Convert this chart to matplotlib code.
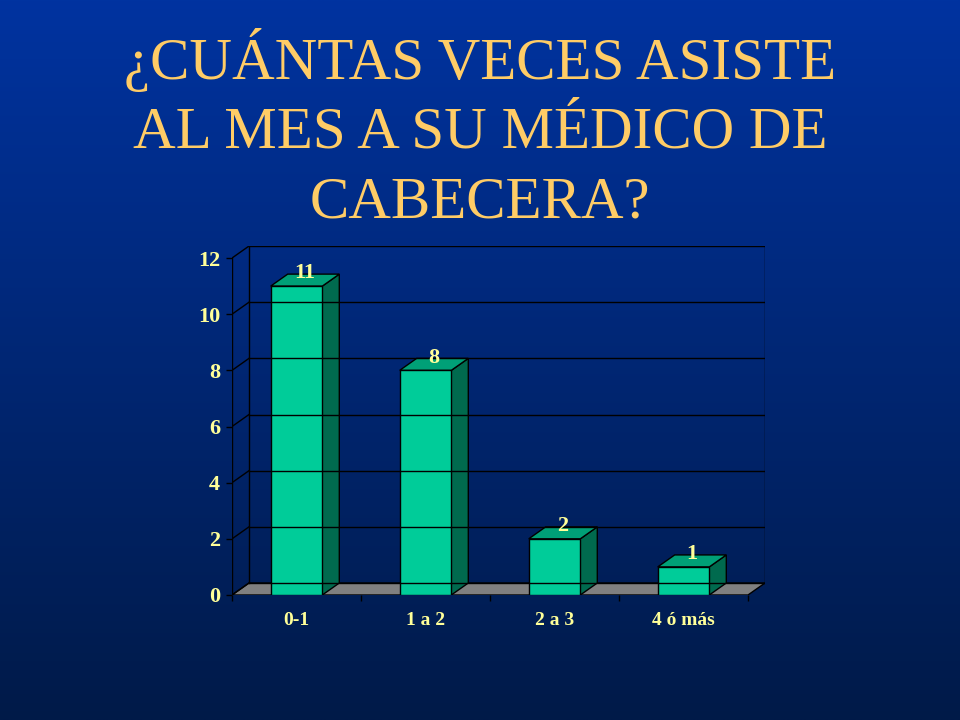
import matplotlib
matplotlib.use("Agg")
import matplotlib.pyplot as plt
import numpy as np
from matplotlib.patches import Polygon

# datos
categorias = ["0-1", "1 a 2", "2 a 3", "4 ó más"]
valores = [11, 8, 2, 1]
y_ticks = [0, 2, 4, 6, 8, 10, 12]
titulo = ["¿CUÁNTAS VECES ASISTE", "AL MES A SU MÉDICO DE", "CABECERA?"]

plt.rcParams['font.family'] = ['Liberation Serif', 'DejaVu Serif']

fig = plt.figure(figsize=(9.6, 7.2), dpi=100)

# fondo degradado
bg = fig.add_axes([0, 0, 1, 1])
top = np.array([0, 51, 160]) / 255
bot = np.array([0, 26, 72]) / 255
t = np.linspace(0, 1, 256)[:, None]
grad = top * (1 - t) + bot * t
bg.imshow(grad[:, None, :].repeat(2, axis=1), aspect='auto', extent=[0, 1, 0, 1])
bg.axis('off')

# titulo
baselines = [79, 148, 217]
for linea, yb in zip(titulo, baselines):
    fig.text(0.5, 1 - yb / 720, linea, ha='center', va='baseline',
             fontsize=42.5, color='#ffcc66')

# grafico 3D falso
ax = fig.add_axes([232 / 960, 125 / 720, 533 / 960, 349 / 720])
ax.patch.set_visible(False)
dx = 17 / 129
dy = 12 / 28.08
n = len(categorias)
x0, x1 = -0.5, n - 0.5
ymax = y_ticks[-1]
ax.set_xlim(x0, x0 + 533 / 129)
ax.set_ylim(0, 349 / 28.08)
for s in ax.spines.values():
    s.set_visible(False)

lc = 'black'
# pared del fondo y lineas de division
for v in y_ticks:
    ax.plot([x0 + dx, x1 + dx], [v + dy, v + dy], color=lc, lw=1)
    ax.plot([x0, x0 + dx], [v, v + dy], color=lc, lw=1)
ax.plot([x0 + dx, x0 + dx], [dy, ymax + dy], color=lc, lw=1)
ax.plot([x1 + dx, x1 + dx], [dy, ymax + dy], color=lc, lw=1)
ax.plot([x0, x0], [0, ymax], color=lc, lw=1)

# piso
ax.add_patch(Polygon([(x0, 0), (x1, 0), (x1 + dx, dy), (x0 + dx, dy)],
                     closed=True, fc='#808080', ec=lc, lw=1))

# barras
w = 0.4
for i, v in enumerate(valores):
    l, r = i - w / 2, i + w / 2
    ax.add_patch(Polygon([(r, 0), (r + dx, dy), (r + dx, v + dy), (r, v)],
                         closed=True, fc='#006a4e', ec=lc, lw=1))
    ax.add_patch(Polygon([(l, v), (r, v), (r + dx, v + dy), (l + dx, v + dy)],
                         closed=True, fc='#00a077', ec=lc, lw=1))
    ax.add_patch(Polygon([(l, 0), (r, 0), (r, v), (l, v)],
                         closed=True, fc='#00cc99', ec=lc, lw=1))
    ax.text(i + dx / 2, v + 0.1, str(v), ha='center', va='bottom',
            fontsize=16, fontweight='bold', color='#ffff99')

# ejes
ax.set_yticks(y_ticks)
ax.set_yticklabels([str(v) for v in y_ticks])
ax.set_xticks(np.arange(n + 1) - 0.5)
ax.set_xticklabels([''] * (n + 1))
ax.set_xticks(np.arange(n), minor=True)
ax.set_xticklabels(categorias, minor=True)
ax.tick_params(axis='y', length=4.5, width=1, color=lc, pad=4,
               labelsize=16, labelcolor='#ffff99')
ax.tick_params(axis='x', which='major', length=4.5, width=1, color=lc)
ax.tick_params(axis='x', which='minor', length=0, pad=12,
               labelsize=14, labelcolor='#ffff99')
for lab in ax.get_yticklabels() + ax.get_xticklabels(minor=True):
    lab.set_fontweight('bold')

fig.savefig('out.png', dpi=100)
